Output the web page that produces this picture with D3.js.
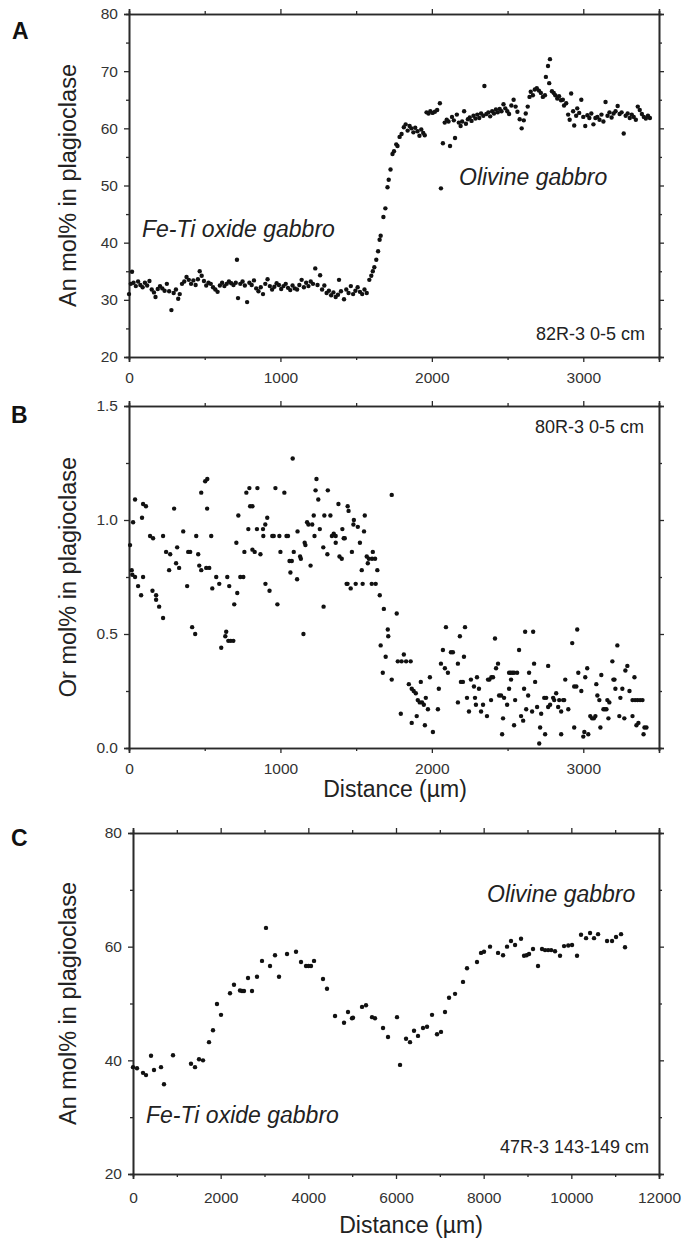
<!DOCTYPE html>
<html>
<head>
<meta charset="utf-8">
<script src="https://cdn.jsdelivr.net/npm/d3@7"></script>
<style>
body { margin: 0; background: #fff; }
text { font-family: "Liberation Sans", Arial, sans-serif; }
</style>
</head>
<body>
<div id="chart"></div>
<script>
// An content, 82R-3 0-5 cm  [distance µm, An mol%]
const anProfileA = [
  [0,31.0],[12,32.8],[20,34.9],[30,33.0],[45,32.4],[60,33.2],[75,32.6],[90,32.2],[105,33.0],[120,32.5],
  [135,33.3],[150,31.8],[165,31.3],[175,30.5],[190,31.9],[205,32.4],[220,32.0],[235,31.6],[250,32.8],[265,31.5],
  [280,28.2],[295,31.2],[310,31.8],[325,30.2],[335,31.0],[350,32.8],[365,33.2],[380,34.0],[395,33.5],[410,32.8],
  [425,33.4],[440,32.6],[455,33.6],[467,35.0],[480,34.2],[495,33.3],[510,32.5],[525,33.0],[540,32.8],[555,32.2],
  [570,31.8],[585,31.4],[600,32.5],[615,33.0],[630,32.4],[645,32.8],[660,33.2],[675,32.9],[690,32.6],[705,33.0],
  [713,37.0],[720,30.3],[735,32.8],[750,33.2],[765,32.5],[780,29.6],[795,33.0],[810,32.6],[825,33.4],[840,32.0],
  [855,31.5],[870,32.2],[885,31.0],[900,32.8],[915,33.6],[930,32.4],[945,31.8],[960,32.3],[975,32.9],[990,32.6],
  [1005,31.9],[1020,32.4],[1035,32.8],[1050,32.1],[1065,31.7],[1080,32.5],[1095,32.0],[1110,31.8],[1125,32.6],[1140,33.5],
  [1155,32.2],[1170,33.0],[1185,32.4],[1200,33.2],[1215,32.8],[1230,35.5],[1245,32.6],[1262,34.3],[1275,31.8],[1290,32.5],
  [1305,31.2],[1320,31.6],[1335,30.8],[1350,31.3],[1365,30.5],[1380,30.9],[1387,33.5],[1400,31.5],[1420,30.1],[1435,31.8],
  [1450,31.2],[1465,32.4],[1480,31.0],[1495,31.6],[1510,32.2],[1525,31.4],[1540,31.0],[1555,31.8],[1570,31.2],[1587,33.5],
  [1600,34.2],[1610,35.0],[1620,35.7],[1633,37.0],[1645,38.5],[1655,40.5],[1662,41.2],[1680,44.5],[1693,46.0],[1707,49.7],
  [1715,51.0],[1727,52.8],[1740,55.5],[1750,56.0],[1765,57.2],[1773,56.9],[1787,58.5],[1800,59.0],[1815,60.2],[1827,60.7],
  [1840,59.6],[1853,60.4],[1865,60.0],[1878,59.3],[1890,60.1],[1905,59.5],[1918,58.7],[1930,59.8],[1943,59.2],[1953,58.8],
  [1965,62.8],[1978,62.6],[1990,63.0],[2005,62.7],[2020,62.9],[2035,63.2],[2053,64.4],[2060,49.5],[2073,57.4],[2085,61.0],
  [2098,61.5],[2110,61.2],[2120,56.9],[2133,62.0],[2145,61.4],[2153,58.3],[2165,62.4],[2178,61.0],[2190,60.4],[2200,61.2],
  [2213,63.0],[2225,60.8],[2238,61.6],[2250,61.9],[2262,61.3],[2275,62.2],[2288,61.7],[2300,62.4],[2313,61.8],[2325,62.6],
  [2340,62.2],[2347,67.4],[2360,62.5],[2373,62.8],[2385,62.1],[2398,63.0],[2410,62.6],[2423,63.3],[2435,62.8],[2448,63.4],
  [2460,63.0],[2473,64.2],[2485,63.5],[2498,63.0],[2510,62.5],[2525,64.0],[2540,65.0],[2553,63.8],[2565,62.9],[2580,61.6],
  [2593,60.0],[2607,61.4],[2620,62.6],[2633,63.8],[2645,65.5],[2653,66.4],[2667,65.8],[2680,66.8],[2693,67.0],[2707,66.6],
  [2720,66.2],[2733,65.5],[2747,65.8],[2753,69.0],[2767,70.9],[2775,67.9],[2780,72.1],[2793,66.5],[2805,66.2],[2815,65.8],
  [2828,65.2],[2840,65.6],[2853,64.9],[2865,65.0],[2873,64.0],[2887,64.4],[2900,62.4],[2910,61.5],[2920,66.1],[2933,63.0],
  [2940,60.5],[2953,62.2],[2960,63.5],[2973,62.7],[2987,65.0],[3000,62.0],[3013,60.4],[3027,62.3],[3040,61.8],[3053,62.6],
  [3067,60.7],[3080,61.8],[3093,62.0],[3107,61.5],[3120,62.4],[3133,61.2],[3147,64.6],[3160,62.2],[3173,62.8],[3187,61.9],
  [3200,62.6],[3213,63.0],[3227,63.9],[3240,62.5],[3253,62.8],[3267,59.1],[3280,62.2],[3293,62.6],[3307,61.8],[3320,62.4],
  [3333,62.0],[3347,61.5],[3360,63.8],[3373,63.2],[3387,62.5],[3400,62.0],[3413,61.7],[3427,62.2],[3440,61.8]
];

// Or content, 80R-3 0-5 cm  [distance µm, Or mol%]
const orProfileB = [
  [7,0.89],[18,0.78],[22,0.76],[27,0.99],[40,1.09],[40,0.75],[60,0.71],[80,0.67],[86,1.01],[93,1.07],
  [93,0.75],[112,1.06],[139,0.93],[155,0.69],[159,0.92],[179,0.67],[179,0.65],[199,0.62],[225,0.93],[225,0.57],
  [245,0.86],[265,0.78],[272,0.85],[298,1.05],[311,0.81],[318,0.88],[331,0.79],[358,0.95],[384,0.71],[391,0.86],
  [404,0.86],[417,0.53],[437,0.50],[444,0.93],[457,0.85],[464,0.80],[477,0.78],[477,1.12],[503,1.17],[510,0.79],
  [516,1.05],[517,1.18],[530,0.79],[543,0.93],[550,0.70],[576,0.75],[596,0.72],[609,0.44],[636,0.49],[642,0.51],
  [649,0.75],[656,0.47],[662,0.71],[672,0.47],[689,0.47],[695,0.63],[709,0.90],[715,0.68],[722,1.02],[735,0.75],
  [755,0.75],[762,0.86],[775,1.12],[788,0.96],[795,1.14],[800,1.06],[815,1.06],[815,0.87],[830,0.86],[845,0.96],
  [848,1.14],[868,0.85],[885,0.96],[887,0.93],[900,0.98],[901,0.72],[913,1.01],[928,0.69],[946,0.93],[956,0.93],
  [967,1.14],[980,0.63],[993,0.93],[1000,0.86],[1026,1.12],[1040,0.93],[1050,0.93],[1060,0.82],[1066,0.77],[1075,0.82],
  [1081,1.27],[1088,0.86],[1110,0.74],[1113,0.95],[1130,0.84],[1135,0.83],[1152,0.50],[1160,0.90],[1165,0.89],[1176,0.99],
  [1185,0.98],[1199,0.80],[1210,0.98],[1220,1.02],[1225,0.93],[1232,1.13],[1238,1.18],[1250,1.09],[1260,0.96],[1283,0.88],
  [1285,0.62],[1290,1.02],[1310,0.85],[1313,1.13],[1330,1.02],[1340,0.93],[1352,0.94],[1365,0.93],[1365,0.90],[1383,1.07],
  [1390,0.84],[1405,0.83],[1409,0.96],[1418,0.92],[1425,0.92],[1437,0.72],[1443,0.72],[1444,1.06],[1450,1.04],[1464,0.70],
  [1472,0.86],[1482,0.98],[1485,1.00],[1497,0.72],[1511,0.97],[1525,0.90],[1537,0.78],[1543,0.72],[1552,0.95],[1557,1.02],
  [1570,0.84],[1577,0.81],[1584,0.83],[1603,0.72],[1605,0.83],[1610,0.86],[1625,0.83],[1629,0.72],[1640,0.78],[1656,0.67],
  [1662,0.45],[1676,0.33],[1683,0.61],[1695,0.40],[1709,0.52],[1712,0.49],[1735,1.11],[1735,0.30],[1768,0.59],[1775,0.38],
  [1795,0.15],[1800,0.38],[1815,0.41],[1830,0.38],[1848,0.28],[1860,0.38],[1867,0.26],[1867,0.11],[1880,0.25],[1894,0.24],
  [1900,0.14],[1907,0.21],[1920,0.20],[1927,0.29],[1935,0.20],[1947,0.19],[1954,0.10],[1960,0.22],[1974,0.17],[1987,0.31],
  [2007,0.07],[2040,0.17],[2046,0.26],[2060,0.37],[2073,0.43],[2086,0.35],[2093,0.53],[2106,0.33],[2126,0.42],[2139,0.42],
  [2172,0.20],[2172,0.37],[2185,0.49],[2192,0.29],[2205,0.29],[2212,0.40],[2219,0.53],[2232,0.22],[2245,0.16],[2258,0.30],
  [2278,0.27],[2285,0.22],[2291,0.19],[2298,0.31],[2311,0.26],[2325,0.16],[2338,0.19],[2364,0.14],[2371,0.30],[2380,0.30],
  [2391,0.21],[2393,0.31],[2404,0.31],[2417,0.48],[2424,0.35],[2437,0.37],[2444,0.23],[2457,0.23],[2464,0.06],[2470,0.13],
  [2477,0.22],[2497,0.19],[2510,0.33],[2510,0.26],[2520,0.33],[2523,0.30],[2532,0.33],[2543,0.33],[2543,0.10],[2550,0.21],
  [2563,0.33],[2576,0.43],[2589,0.14],[2603,0.12],[2609,0.26],[2616,0.51],[2623,0.17],[2636,0.23],[2642,0.33],[2662,0.16],
  [2669,0.51],[2675,0.37],[2682,0.29],[2695,0.18],[2709,0.02],[2715,0.09],[2722,0.15],[2742,0.22],[2748,0.06],[2755,0.22],
  [2768,0.36],[2768,0.18],[2781,0.19],[2801,0.22],[2808,0.21],[2821,0.24],[2834,0.18],[2841,0.21],[2854,0.16],[2854,0.06],
  [2867,0.21],[2874,0.21],[2881,0.30],[2901,0.17],[2927,0.46],[2940,0.27],[2940,0.09],[2954,0.27],[2960,0.52],[2967,0.33],
  [2987,0.25],[3000,0.05],[3007,0.07],[3013,0.31],[3026,0.35],[3033,0.06],[3046,0.14],[3058,0.13],[3070,0.13],[3080,0.14],
  [3086,0.28],[3093,0.23],[3106,0.21],[3113,0.09],[3119,0.32],[3133,0.17],[3143,0.17],[3153,0.17],[3159,0.21],[3166,0.13],
  [3172,0.20],[3192,0.38],[3199,0.30],[3206,0.30],[3212,0.26],[3225,0.45],[3238,0.14],[3245,0.22],[3258,0.26],[3271,0.13],
  [3278,0.34],[3291,0.36],[3305,0.25],[3325,0.21],[3325,0.14],[3338,0.31],[3342,0.21],[3351,0.10],[3358,0.21],[3364,0.11],
  [3375,0.21],[3391,0.21],[3398,0.06],[3404,0.09],[3417,0.09]
];

// An content, 47R-3 143-149 cm  [distance µm, An mol%]
const anProfileC = [
  [0,38.8],[91,38.6],[228,37.8],[297,37.4],[411,40.8],[479,38.3],[639,38.8],[707,35.8],[913,40.9],[1323,39.4],
  [1415,38.8],[1506,40.2],[1597,40.0],[1734,43.2],[1825,45.3],[1916,49.9],[2008,48.0],[2213,51.8],[2304,53.3],[2441,52.3],
  [2487,52.2],[2532,52.2],[2624,54.5],[2715,52.2],[2829,54.7],[2943,57.5],[3034,63.3],[3126,56.6],[3240,58.5],[3331,54.7],
  [3514,58.7],[3719,59.1],[3833,57.3],[3947,56.6],[4004,56.6],[4061,56.6],[4130,57.5],[4335,54.3],[4426,52.6],[4609,47.8],
  [4814,46.6],[4905,48.5],[4996,47.4],[5019,47.5],[5225,49.4],[5316,49.7],[5453,47.6],[5521,47.4],[5704,45.7],[5818,44.1],
  [6023,47.6],[6092,39.2],[6229,43.8],[6320,43.2],[6411,45.2],[6502,44.3],[6616,45.7],[6708,45.9],[6822,48.0],[6936,44.6],
  [7027,45.0],[7118,48.5],[7210,51.0],[7347,51.7],[7529,53.8],[7620,56.2],[7848,57.3],[7940,58.9],[8008,59.1],[8145,60.0],
  [8328,58.9],[8442,58.5],[8533,60.0],[8624,61.0],[8716,60.3],[8852,61.4],[8921,58.4],[8980,58.5],[9035,58.7],[9126,59.6],
  [9240,56.6],[9331,59.6],[9400,59.4],[9470,59.4],[9540,59.4],[9628,59.2],[9742,58.4],[9834,60.1],[9930,60.2],[10016,60.3],
  [10130,58.4],[10221,62.1],[10336,61.5],[10427,62.4],[10518,61.5],[10610,62.2],[10815,61.0],[10929,61.0],[11020,61.7],[11134,62.2],
  [11225,59.9]
];

const xTicksA = [0, 1000, 2000, 3000];
const xMinorA = [500, 1500, 2500, 3500];
const yTicksA = [20, 30, 40, 50, 60, 70, 80];
const yMinorA = [25, 35, 45, 55, 65, 75];
const yTicksB = [0, 0.5, 1.0, 1.5];
const yMinorB = [0.25, 0.75, 1.25];
const xTicksC = [0, 2000, 4000, 6000, 8000, 10000, 12000];
const xMinorC = [1000, 3000, 5000, 7000, 9000, 11000];
const yTicksC = [20, 40, 60, 80];
const yMinorC = [30, 50, 70];

const svg = d3.select("#chart")
    .append("svg")
    .attr("width", 696)
    .attr("height", 1242)
    .style("display", "block");

function drawPanel(p) {
    const x = d3.scaleLinear().domain(p.xDomain).range([p.left, p.right]);
    const y = d3.scaleLinear().domain(p.yDomain).range([p.bottom, p.top]);
    const g = svg.append("g");

    const styleAxis = (sel) => {
        sel.select(".domain").attr("stroke", "#2a2a2a").attr("stroke-width", 1.6);
        sel.selectAll(".tick line").attr("stroke", "#2a2a2a").attr("stroke-width", 1.3);
        sel.selectAll(".tick text")
            .attr("fill", "#333")
            .style("font-size", "15.5px")
            .style("font-family", "'Liberation Sans', Arial, sans-serif");
    };

    // left axis
    g.append("g").attr("transform", `translate(${p.left},0)`)
        .call(d3.axisLeft(y).tickValues(p.yTicks).tickSize(5).tickPadding(6).tickFormat(p.yFormat))
        .call(styleAxis);
    g.append("g").attr("transform", `translate(${p.left},0)`)
        .call(d3.axisLeft(y).tickValues(p.yMinor).tickSize(3).tickFormat(""))
        .call(styleAxis);
    // right axis
    g.append("g").attr("transform", `translate(${p.right},0)`)
        .call(d3.axisRight(y).tickValues(p.yTicks).tickSize(5).tickFormat(""))
        .call(styleAxis);
    g.append("g").attr("transform", `translate(${p.right},0)`)
        .call(d3.axisRight(y).tickValues(p.yMinor).tickSize(3).tickFormat(""))
        .call(styleAxis);
    // bottom axis
    g.append("g").attr("transform", `translate(0,${p.bottom})`)
        .call(d3.axisBottom(x).tickValues(p.xTicks).tickSize(5).tickPadding(p.xPad).tickFormat(d3.format("d")))
        .call(styleAxis);
    g.append("g").attr("transform", `translate(0,${p.bottom})`)
        .call(d3.axisBottom(x).tickValues(p.xMinor).tickSize(3).tickFormat(""))
        .call(styleAxis);
    // top axis
    g.append("g").attr("transform", `translate(0,${p.top})`)
        .call(d3.axisTop(x).tickValues(p.xTicks).tickSize(5).tickFormat(""))
        .call(styleAxis);
    g.append("g").attr("transform", `translate(0,${p.top})`)
        .call(d3.axisTop(x).tickValues(p.xMinor).tickSize(3).tickFormat(""))
        .call(styleAxis);

    // points
    g.append("g")
        .selectAll("circle")
        .data(p.data)
        .join("circle")
        .attr("cx", d => x(d[0]))
        .attr("cy", d => y(d[1]))
        .attr("r", 2.2)
        .attr("fill", "#111");

    // panel letter
    g.append("text")
        .attr("x", p.letterX)
        .attr("y", p.letterY)
        .style("font-size", "23px")
        .style("font-weight", "bold")
        .attr("fill", "#111")
        .text(p.letter);

    // y label
    g.append("text")
        .attr("transform", `translate(76,${(p.top + p.bottom) / 2}) rotate(-90)`)
        .attr("text-anchor", "middle")
        .style("font-size", "23.5px")
        .attr("fill", "#222")
        .text(p.yLabel);

    // x label
    if (p.xLabel) {
        g.append("text")
            .attr("x", p.xLabelX)
            .attr("y", p.xLabelY)
            .attr("text-anchor", "middle")
            .style("font-size", "23px")
            .attr("fill", "#222")
            .text(p.xLabel);
    }

    // annotations
    p.notes.forEach(n => {
        g.append("text")
            .attr("x", n.x)
            .attr("y", n.y)
            .attr("text-anchor", n.anchor || "start")
            .style("font-size", n.size + "px")
            .style("font-style", n.italic ? "italic" : "normal")
            .attr("fill", "#222")
            .text(n.text);
    });
}

drawPanel({
    letter: "A", letterX: 12, letterY: 39,
    left: 129, right: 659, top: 14, bottom: 357,
    xDomain: [0, 3500], yDomain: [20, 80],
    xTicks: xTicksA, xMinor: xMinorA, yTicks: yTicksA, yMinor: yMinorA,
    yFormat: d3.format("d"), xPad: 10,
    data: anProfileA,
    yLabel: "An mol% in plagioclase",
    notes: [
        { text: "Fe-Ti oxide gabbro", x: 142, y: 237, size: 23, italic: true },
        { text: "Olivine gabbro", x: 459, y: 185, size: 23, italic: true },
        { text: "82R-3 0-5 cm", x: 645, y: 340, size: 18, anchor: "end" }
    ]
});

drawPanel({
    letter: "B", letterX: 11, letterY: 423,
    left: 129, right: 659, top: 406, bottom: 748,
    xDomain: [0, 3500], yDomain: [0, 1.5],
    xTicks: xTicksA, xMinor: xMinorA, yTicks: yTicksB, yMinor: yMinorB,
    yFormat: d3.format(".1f"), xPad: 10,
    data: orProfileB,
    yLabel: "Or mol% in plagioclase",
    xLabel: "Distance (µm)", xLabelX: 395, xLabelY: 797,
    notes: [
        { text: "80R-3 0-5 cm", x: 644, y: 433, size: 18, anchor: "end" }
    ]
});

drawPanel({
    letter: "C", letterX: 11, letterY: 846,
    left: 133, right: 659, top: 833, bottom: 1174,
    xDomain: [0, 12000], yDomain: [20, 80],
    xTicks: xTicksC, xMinor: xMinorC, yTicks: yTicksC, yMinor: yMinorC,
    yFormat: d3.format("d"), xPad: 13,
    data: anProfileC,
    yLabel: "An mol% in plagioclase",
    xLabel: "Distance (µm)", xLabelX: 411, xLabelY: 1233,
    notes: [
        { text: "Olivine gabbro", x: 487, y: 902, size: 23, italic: true },
        { text: "Fe-Ti oxide gabbro", x: 146, y: 1123, size: 23, italic: true },
        { text: "47R-3 143-149 cm", x: 649, y: 1153, size: 18, anchor: "end" }
    ]
});
</script>
</body>
</html>
